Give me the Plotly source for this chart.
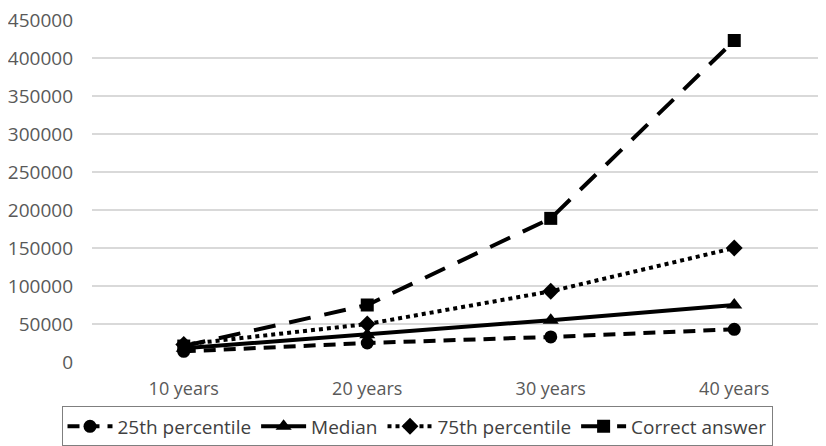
import plotly.graph_objects as go

categories = ["10 years", "20 years", "30 years", "40 years"]
p25 = [14000, 25000, 33000, 43000]
median = [18000, 36000, 55000, 75000]
p75 = [23000, 50000, 93000, 150000]
correct = [21000, 75000, 189000, 423000]
y_ticks = [0, 50000, 100000, 150000, 200000, 250000, 300000, 350000, 400000, 450000]

font_family = "Open Sans, Liberation Sans, sans-serif"

fig = go.Figure()
fig.add_trace(go.Scatter(x=categories, y=p25, name="25th percentile", mode="lines+markers",
                         line=dict(color="black", width=4, dash="12px,8px"),
                         marker=dict(symbol="circle", size=13, color="black")))
fig.add_trace(go.Scatter(x=categories, y=median, name="Median", mode="lines+markers",
                         line=dict(color="black", width=4, dash="solid"),
                         marker=dict(symbol="triangle-up", size=14, color="black")))
fig.add_trace(go.Scatter(x=categories, y=p75, name="75th percentile", mode="lines+markers",
                         line=dict(color="black", width=4, dash="dot"),
                         marker=dict(symbol="diamond", size=13, color="black")))
fig.add_trace(go.Scatter(x=categories, y=correct, name="Correct answer", mode="lines+markers",
                         line=dict(color="black", width=4, dash="22px,14px"),
                         marker=dict(symbol="square", size=13, color="black")))

fig.update_layout(
    width=818, height=438,
    margin=dict(l=84, r=0, t=12, b=84, autoexpand=False),
    paper_bgcolor="white", plot_bgcolor="white",
    font=dict(family=font_family, size=18, color="#595959"),
    showlegend=True,
    legend=dict(orientation="h", x=0.5, xanchor="center", xref="container",
                y=-0.13, yanchor="top",
                bordercolor="#7f7f7f", borderwidth=1,
                font=dict(family=font_family, size=19, color="#404040"),
                itemwidth=45, tracegroupgap=0),
    xaxis=dict(type="category", range=[-0.5, 3.5], showgrid=False, showline=False,
               ticks="outside", ticklen=10, tickcolor="rgba(0,0,0,0)",
               tickfont=dict(size=18, color="#595959")),
    yaxis=dict(range=[0, 450000], tickvals=y_ticks, tickformat="d",
               showgrid=True, gridcolor="#d9d9d9", gridwidth=1.5,
               zeroline=False, showline=False, ticks="", ticklen=0,
               ticklabelstandoff=18, ticklabeloverflow="allow",
               tickfont=dict(size=19, color="#595959")),
)
fig.write_html("out.html")
